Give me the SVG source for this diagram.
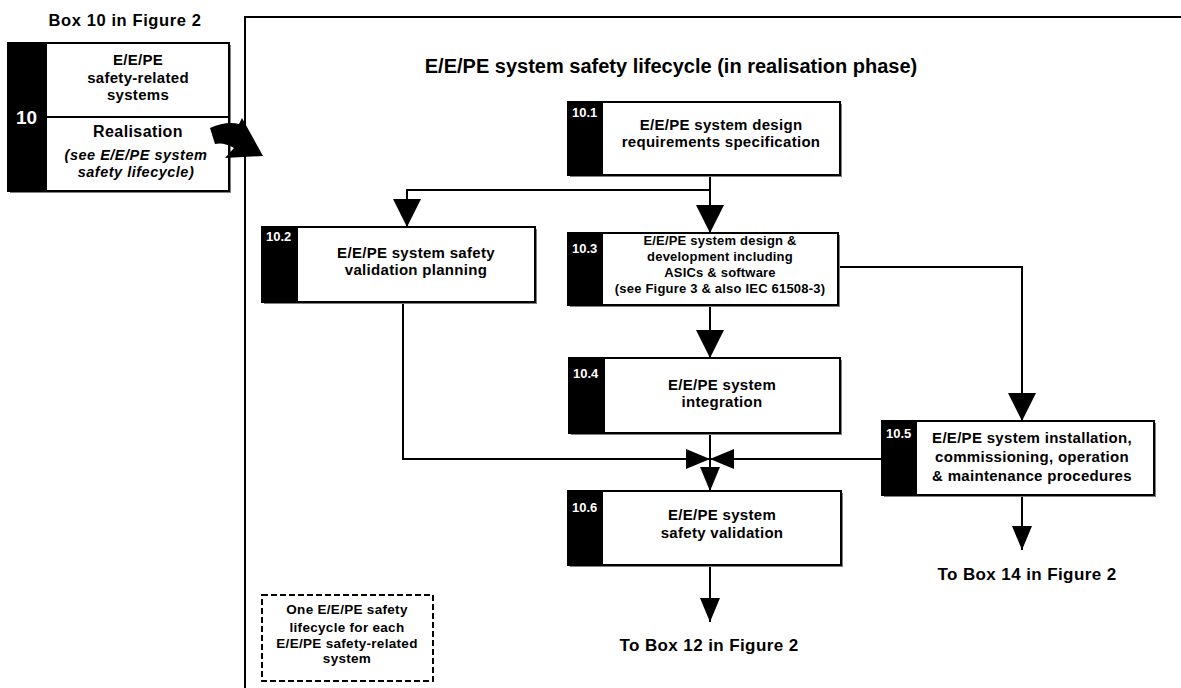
<svg xmlns="http://www.w3.org/2000/svg" width="1181" height="688" viewBox="0 0 1181 688">
  <style>
    text { font-family: "Liberation Sans", Arial, sans-serif; font-weight: bold; fill: #000; }
    .t { font-size: 15px; text-anchor: middle; letter-spacing: 0.3px; }
    .ts { font-size: 13px; text-anchor: middle; letter-spacing: 0.2px; }
    .it { font-size: 14.5px; text-anchor: middle; letter-spacing: 0.5px; font-style: italic; }
    .note { font-size: 13.5px; text-anchor: middle; letter-spacing: 0.3px; }
    .num { font-size: 13px; fill: #fff; }
    .cap { font-size: 17px; text-anchor: middle; letter-spacing: 0.4px; }
    .box { fill: #fff; stroke: #000; stroke-width: 2; }
    .shadow { fill: #808080; }
    .bar { fill: #000; }
    .wire { fill: none; stroke: #000; stroke-width: 2; }
  </style>
  <defs>
    <marker id="arrowBig" viewBox="0 0 28 28" refX="28" refY="14" markerWidth="28" markerHeight="28" markerUnits="userSpaceOnUse" orient="auto">
      <path d="M0,0 L28,14 L0,28 Z" fill="#000"/>
    </marker>
    <marker id="arrowSmall" viewBox="0 0 24 20" refX="24" refY="10" markerWidth="24" markerHeight="20" markerUnits="userSpaceOnUse" orient="auto">
      <path d="M0,0 L24,10 L0,20 Z" fill="#000"/>
    </marker>
  </defs>
  <rect width="1181" height="688" fill="#fff"/>

  <!-- overall box 10 and its heading -->
  <g id="box10">
    <text x="125" y="26" style="font-size:16.5px;text-anchor:middle;letter-spacing:0.6px">Box 10 in Figure 2</text>
    <rect class="shadow" x="10" y="45" width="221" height="148"/>
    <rect class="box" x="8" y="43" width="221" height="148"/>
    <rect class="bar" x="8" y="43" width="39" height="148"/>
    <line x1="47" y1="117" x2="229" y2="117" stroke="#000" stroke-width="2"/>
    <text x="16" y="124" style="font-size:19px;fill:#fff">10</text>
    <text class="t" x="138" y="65">E/E/PE</text>
    <text class="t" x="138" y="83">safety-related</text>
    <text class="t" x="138" y="100">systems</text>
    <text x="138" y="137" style="font-size:16px;text-anchor:middle;letter-spacing:0.4px">Realisation</text>
    <text class="it" x="136" y="160">(see E/E/PE system</text>
    <text class="it" x="136" y="177">safety lifecycle)</text>
  </g>

  <!-- curved pointer into the lifecycle frame -->
  <path d="M210,128 Q226,121 239,124 L242,118 L263,156 L225,158 L234,148 Q224,142 215,144 Z" fill="#000"/>

  <!-- lifecycle frame -->
  <path class="wire" d="M245,688 V17 H1181"/>
  <text x="671" y="73" style="font-size:20px;text-anchor:middle">E/E/PE system safety lifecycle (in realisation phase)</text>

  <g id="connectors">
    <path class="wire" d="M710,175 V233" marker-end="url(#arrowBig)"/>
    <path class="wire" d="M710,190 H407 V227" marker-end="url(#arrowBig)"/>
    <path class="wire" d="M710,305 V358" marker-end="url(#arrowBig)"/>
    <path class="wire" d="M838,267 H1022 V421" marker-end="url(#arrowBig)"/>
    <path class="wire" d="M403,302 V459 H710" marker-end="url(#arrowSmall)"/>
    <path class="wire" d="M882,459 H710" marker-end="url(#arrowSmall)"/>
    <path class="wire" d="M710,433 V491" marker-end="url(#arrowSmall)"/>
    <path class="wire" d="M1022,495 V550" marker-end="url(#arrowSmall)"/>
    <path class="wire" d="M710,565 V622" marker-end="url(#arrowSmall)"/>
  </g>

  <g id="box10_1">
    <rect class="shadow" x="570" y="104" width="272" height="73"/>
    <rect class="box" x="568" y="102" width="272" height="73"/>
    <rect class="bar" x="568" y="102" width="35" height="73"/>
    <text class="num" x="572" y="117">10.1</text>
    <text class="t" x="721" y="130">E/E/PE system design</text>
    <text class="t" x="721" y="147">requirements specification</text>
  </g>

  <g id="box10_2">
    <rect class="shadow" x="264" y="229" width="273" height="75"/>
    <rect class="box" x="262" y="227" width="273" height="75"/>
    <rect class="bar" x="262" y="227" width="36" height="75"/>
    <text class="num" x="266" y="241">10.2</text>
    <text class="t" x="416" y="258">E/E/PE system safety</text>
    <text class="t" x="416" y="275">validation planning</text>
  </g>

  <g id="box10_3">
    <rect class="shadow" x="570" y="235" width="270" height="72"/>
    <rect class="box" x="568" y="233" width="270" height="72"/>
    <rect class="bar" x="568" y="233" width="35" height="72"/>
    <text class="num" x="572" y="253">10.3</text>
    <text class="ts" x="720" y="245">E/E/PE system design &amp;</text>
    <text class="ts" x="720" y="261">development including</text>
    <text class="ts" x="720" y="277">ASICs &amp; software</text>
    <text class="ts" x="720" y="293">(see Figure 3 &amp; also IEC 61508-3)</text>
  </g>

  <g id="box10_4">
    <rect class="shadow" x="571" y="360" width="271" height="75"/>
    <rect class="box" x="569" y="358" width="271" height="75"/>
    <rect class="bar" x="569" y="358" width="36" height="75"/>
    <text class="num" x="573" y="378">10.4</text>
    <text class="t" x="722" y="390">E/E/PE system</text>
    <text class="t" x="722" y="407">integration</text>
  </g>

  <g id="box10_5">
    <rect class="shadow" x="884" y="423" width="272" height="74"/>
    <rect class="box" x="882" y="421" width="272" height="74"/>
    <rect class="bar" x="882" y="421" width="35" height="74"/>
    <text class="num" x="886" y="438">10.5</text>
    <text class="t" x="1032" y="443">E/E/PE system installation,</text>
    <text class="t" x="1032" y="462">commissioning, operation</text>
    <text class="t" x="1032" y="481">&amp; maintenance procedures</text>
    <text class="cap" x="1027" y="580">To Box 14 in Figure 2</text>
  </g>

  <g id="box10_6">
    <rect class="shadow" x="570" y="493" width="273" height="74"/>
    <rect class="box" x="568" y="491" width="273" height="74"/>
    <rect class="bar" x="568" y="491" width="35" height="74"/>
    <text class="num" x="572" y="512">10.6</text>
    <text class="t" x="722" y="520">E/E/PE system</text>
    <text class="t" x="722" y="538">safety validation</text>
    <text class="cap" x="709" y="651">To Box 12 in Figure 2</text>
  </g>

  <g id="note">
    <rect x="262" y="595" width="171" height="86" fill="#fff" stroke="#000" stroke-width="2" stroke-dasharray="6 3"/>
    <text class="note" x="347" y="614">One E/E/PE safety</text>
    <text class="note" x="347" y="632">lifecycle for each</text>
    <text class="note" x="347" y="648">E/E/PE  safety-related</text>
    <text class="note" x="347" y="663">system</text>
  </g>
</svg>
